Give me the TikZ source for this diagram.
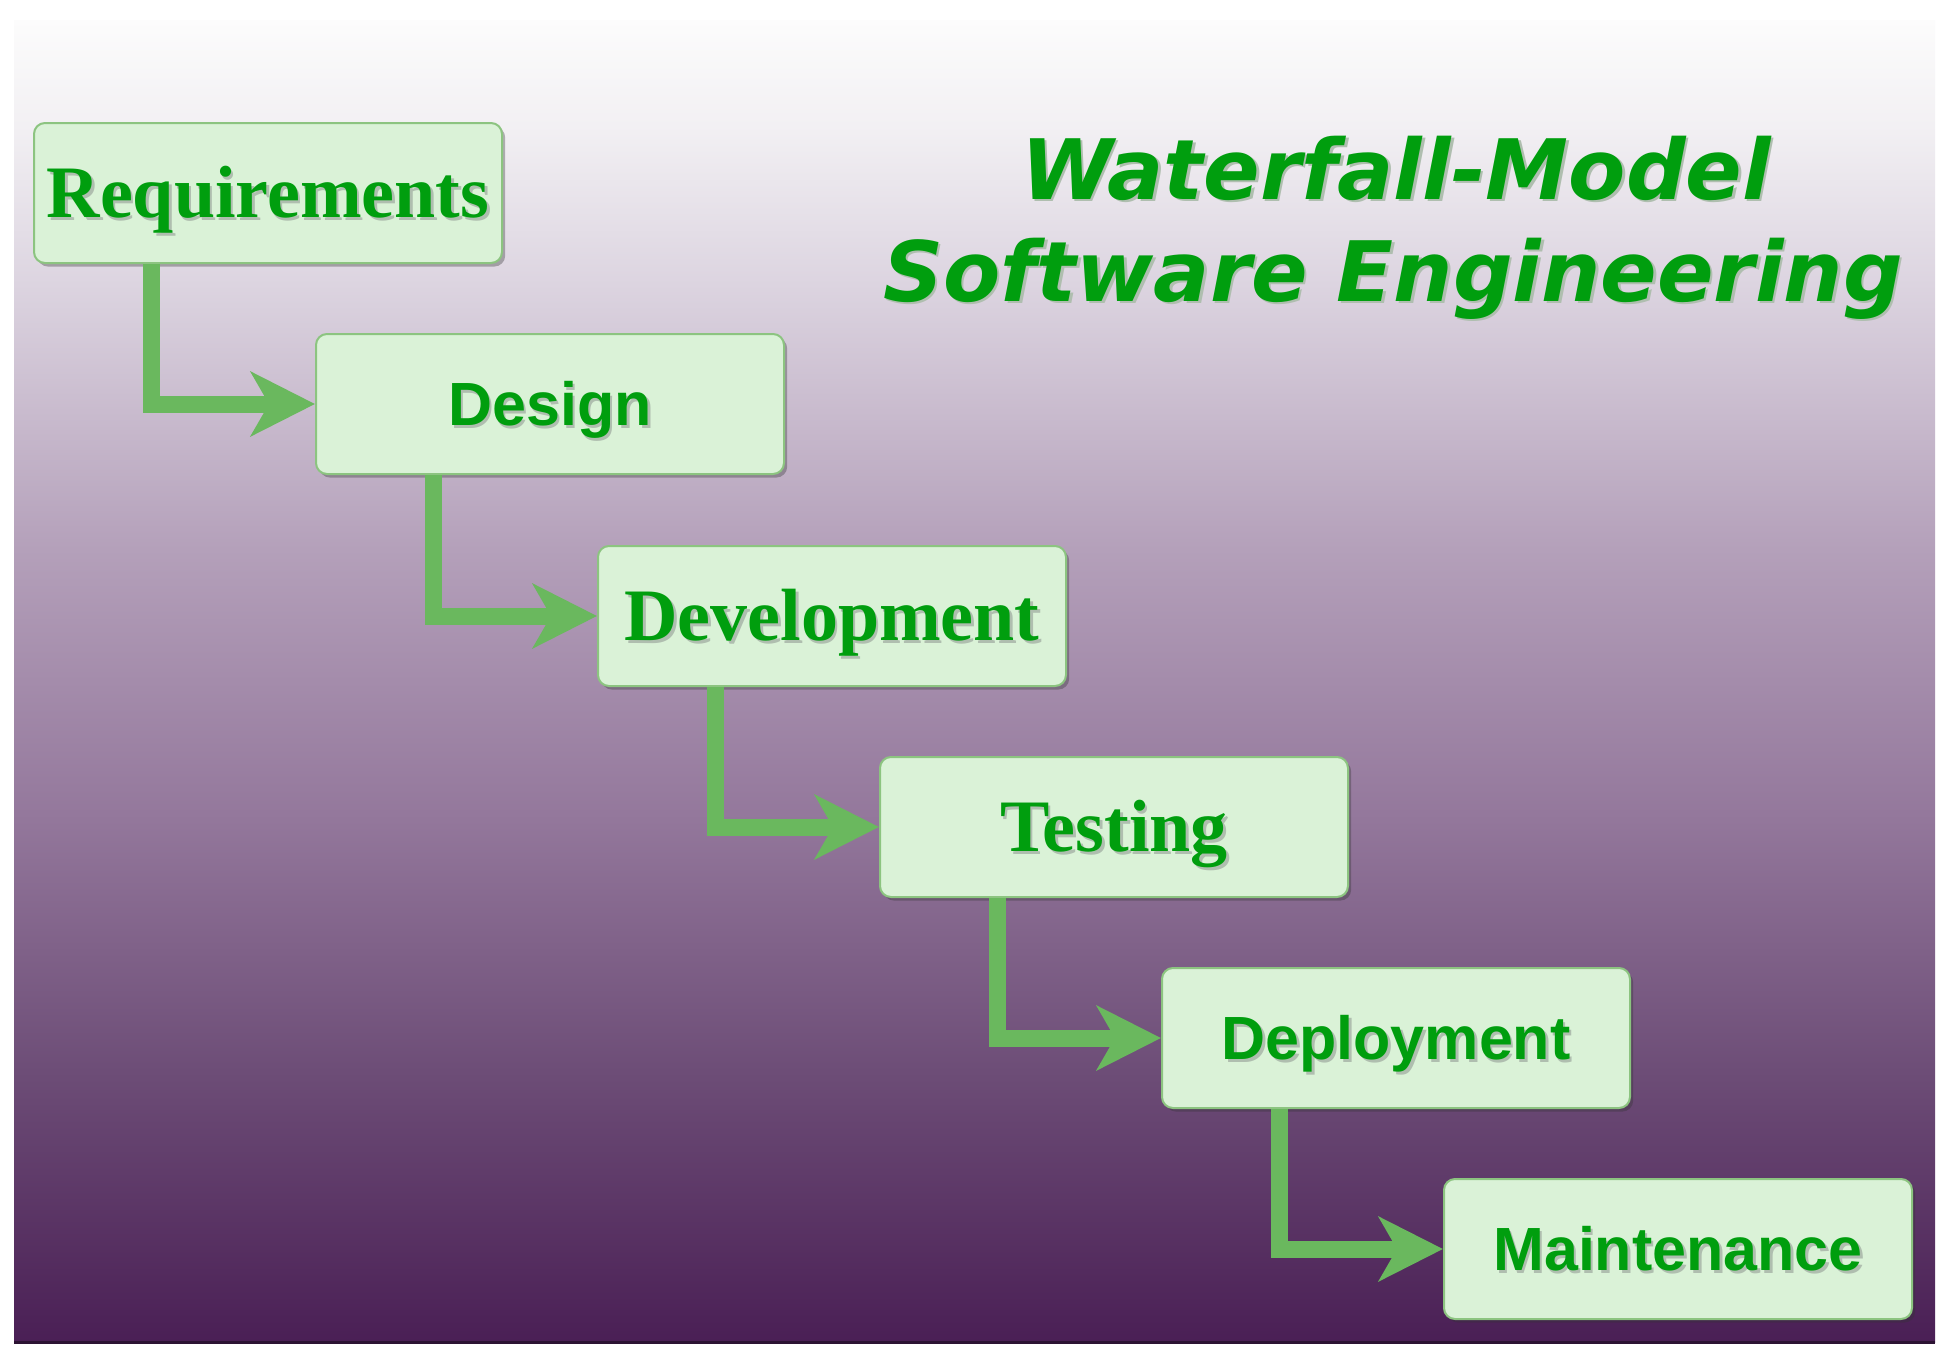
\documentclass[tikz,border=0pt]{standalone}
\usepackage{fontspec}
\setmainfont{Liberation Serif}
\newfontfamily\sansf{Liberation Sans}
\newfontfamily\titlef{DejaVu Sans}
\usetikzlibrary{arrows.meta,shadows,calc}
\definecolor{txtgreen}{RGB}{0,158,14}
\definecolor{txtshadow}{RGB}{175,190,175}
\definecolor{boxfill}{RGB}{218,242,215}
\definecolor{boxline}{RGB}{140,196,128}
\definecolor{arrowgreen}{RGB}{106,184,94}
\definecolor{bgA}{RGB}{74,31,85}
\definecolor{bgB}{RGB}{108,76,118}
\definecolor{bgC}{RGB}{148,120,156}
\definecolor{bgD}{RGB}{180,160,186}
\definecolor{bgE}{RGB}{220,212,224}
\definecolor{bgF}{RGB}{242,240,243}
\definecolor{bgG}{RGB}{252,252,252}
\pgfdeclareverticalshading{bgshade}{100bp}{color(0bp)=(bgA); color(25bp)=(bgA); color(35bp)=(bgB); color(45bp)=(bgC); color(55bp)=(bgD); color(65bp)=(bgE); color(71bp)=(bgF); color(75bp)=(bgG); color(100bp)=(bgG)}
\newcommand{\shtxt}[1]{\makebox[0pt][l]{\hspace{1.3pt}\raisebox{-1.3pt}{\textcolor{txtshadow}{#1}}}#1}
\tikzset{
  stage/.style={draw=boxline, line width=1pt, fill=boxfill, rounded corners=5.5pt,
    minimum width=234pt, minimum height=70pt, inner sep=0pt, text=txtgreen,
    drop shadow={shadow xshift=1.6pt, shadow yshift=-1.8pt, opacity=0.35, fill=black!80}},
  serifstage/.style={stage, font=\fontsize{37}{40}\selectfont\bfseries, text height=24.5pt, text depth=0pt},
  sansstage/.style={stage, font=\sansf\fontsize{30.5}{34}\selectfont\bfseries, text height=21.8pt, text depth=0pt},
  flow/.style={draw=arrowgreen, line width=8.5pt,
    -{Stealth[length=32pt, width=32pt, inset=9pt]}},
  titletext/.style={text=txtgreen, font=\titlef\fontsize{41.7}{50}\selectfont\bfseries\itshape, anchor=base, inner sep=0pt}
}
\begin{document}
\begin{tikzpicture}[x=0.5pt, y=-0.5pt]
\useasboundingbox (0,0) rectangle (1950,1360);
\fill[white] (0,0) rectangle (1950,1360);
\fill[shading=bgshade] (14,20) rectangle (1935,1342);
\draw[line width=1.5pt, color=bgA!60!black] (14,1342) -- (1935,1342);

\node[titletext] (t1) at (1396,199) {\shtxt{Waterfall-Model}};
\node[titletext] (t2) at (1393,301) {\shtxt{Software Engineering}};

\node[serifstage] (req) at (268,193) {\shtxt{Requirements}};
\node[sansstage]  (des) at (550,404) {\shtxt{Design}};
\node[serifstage] (dev) at (832,616) {\shtxt{Development}};
\node[serifstage] (tst) at (1114,827) {\shtxt{Testing}};
\node[sansstage]  (dep) at (1396,1038) {\shtxt{Deployment}};
\node[sansstage]  (mnt) at (1678,1249) {\shtxt{Maintenance}};

\draw[flow] ($(req.south west)+(118,0)$) |- (des.west);
\draw[flow] ($(des.south west)+(118,0)$) |- (dev.west);
\draw[flow] ($(dev.south west)+(118,0)$) |- (tst.west);
\draw[flow] ($(tst.south west)+(118,0)$) |- (dep.west);
\draw[flow] ($(dep.south west)+(118,0)$) |- (mnt.west);
\end{tikzpicture}
\end{document}
